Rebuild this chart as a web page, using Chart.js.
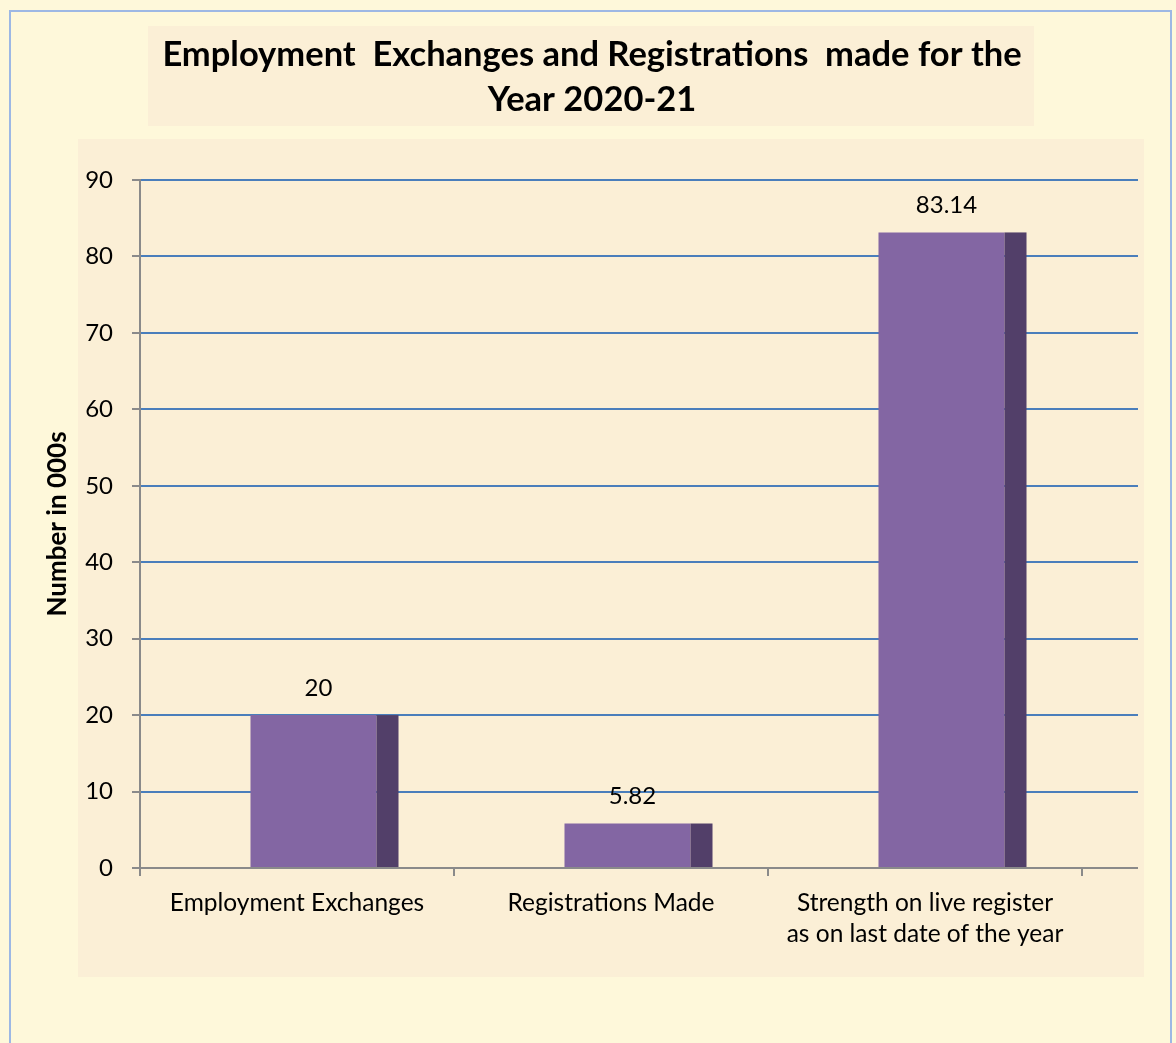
<!DOCTYPE html>
<html>
<head>
<meta charset="utf-8">
<script src="https://cdn.jsdelivr.net/npm/chart.js@4.4.0/dist/chart.umd.min.js"></script>
<style>
  html, body { margin: 0; padding: 0; background: #FEF8DA; }
</style>
</head>
<body>
<canvas id="c" width="1176" height="1043"></canvas>
<script>
const categories = [
  ['Employment Exchanges'],
  ['Registrations Made'],
  ['Strength on live register', 'as on last date of the year']
];
const values = [20, 5.82, 83.14];
const yTickValues = [0, 10, 20, 30, 40, 50, 60, 70, 80, 90];
const titleLines = ['Employment  Exchanges and Registrations  made for the', 'Year 2020-21'];
const yAxisTitle = 'Number in 000s';

const FONT = 'Lato';
const FRONT = '#8366A3';
const SIDE = '#523F69';
const GRID_BLUE = '#4A7EBB';
const AXIS_GRAY = '#8A8A8A';
const SHIFT = 16.5;
const SIDE_W = 22;
const DEPTH_EXT = 56;

function alignPx(p, w) { const h = w / 2; return Math.round(p - h) + h; }

const backgroundPlugin = {
  id: 'bgPanels',
  beforeDraw(chart) {
    const ctx = chart.ctx;
    ctx.save();
    ctx.fillStyle = '#FEF8DA';
    ctx.fillRect(0, 0, chart.width, chart.height);
    ctx.fillStyle = '#FBEFD6';
    ctx.fillRect(148, 26, 886, 100);
    ctx.fillRect(78, 139, 1066, 838);
    ctx.strokeStyle = '#9DB8E4';
    ctx.lineWidth = 2;
    ctx.strokeRect(10, 11, 1161, 1040);
    // chart title inside its panel
    ctx.fillStyle = '#000';
    ctx.font = 'bold 34.5px "' + FONT + '"';
    ctx.textAlign = 'center';
    ctx.textBaseline = 'middle';
    titleLines.forEach((line, i) => ctx.fillText(line, 592, 54.5 + i * 45.5));
    ctx.restore();
  }
};

const extPlugin = {
  id: 'depthExt',
  beforeDatasetsDraw(chart) {
    const ctx = chart.ctx;
    const ys = chart.scales.y;
    const ca = chart.chartArea;
    ctx.save();
    ys.ticks.forEach(t => {
      const y = alignPx(ys.getPixelForValue(t.value), 2);
      ctx.strokeStyle = t.value === 0 ? AXIS_GRAY : GRID_BLUE;
      ctx.lineWidth = 2;
      ctx.beginPath();
      ctx.moveTo(ca.right - 1, y);
      ctx.lineTo(ca.right + DEPTH_EXT, y);
      ctx.stroke();
    });
    ctx.restore();
    ctx.save();
    ctx.translate(SHIFT, 0);
  },
  afterDatasetsDraw(chart) {
    const ctx = chart.ctx;
    const meta = chart.getDatasetMeta(0);
    meta.data.forEach((bar, i) => {
      const p = bar.getProps(['x', 'y', 'base', 'width'], true);
      const right = p.x + p.width / 2;
      ctx.fillStyle = SIDE;
      ctx.fillRect(right, p.y, SIDE_W, p.base - p.y);
      ctx.fillStyle = '#000';
      ctx.font = '24px "' + FONT + '"';
      ctx.textAlign = 'center';
      ctx.textBaseline = 'middle';
      ctx.fillText(String(values[i]), p.x + 5, p.y - 27);
    });
    ctx.restore();
  }
};

new Chart(document.getElementById('c'), {
  type: 'bar',
  data: {
    labels: categories,
    datasets: [{
      data: values,
      backgroundColor: FRONT,
      borderWidth: 0,
      categoryPercentage: 1,
      barPercentage: 0.4013
    }]
  },
  options: {
    responsive: false,
    animation: false,
    events: [],
    layout: { padding: { left: 40, right: 94, top: 180, bottom: 75 } },
    plugins: {
      legend: { display: false },
      tooltip: { enabled: false },
      title: { display: false }
    },
    scales: {
      y: {
        min: 0, max: 90,
        afterBuildTicks(s) { s.ticks = yTickValues.map(v => ({ value: v })); },
        afterFit(s) { s.width = 100; },
        ticks: { color: '#000', font: { family: FONT, size: 24 }, padding: 19 },
        grid: {
          color: c => (c.tick && c.tick.value === 0) ? 'rgba(0,0,0,0)' : GRID_BLUE,
          lineWidth: 2,
          tickLength: 8,
          tickColor: AXIS_GRAY
        },
        border: { color: AXIS_GRAY, width: 2 },
        title: {
          display: true, text: yAxisTitle, color: '#000',
          font: { family: FONT, size: 26, weight: 'bold' },
          padding: { top: 2, bottom: 0 }
        }
      },
      x: {
        afterFit(s) { s.height = 100; },
        ticks: { color: '#000', font: { family: FONT, size: 24.5, lineHeight: 31 / 24.5 }, padding: 12 },
        grid: {
          offset: true,
          drawOnChartArea: false,
          drawTicks: true,
          tickLength: 8,
          tickColor: AXIS_GRAY,
          lineWidth: 2
        },
        border: { color: AXIS_GRAY, width: 2 }
      }
    }
  },
  plugins: [backgroundPlugin, extPlugin]
});
</script>
</body>
</html>
